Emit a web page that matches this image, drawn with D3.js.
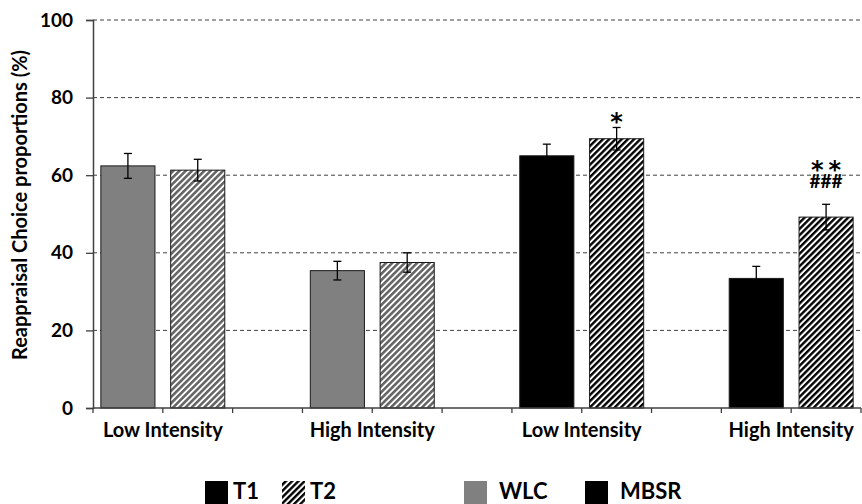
<!DOCTYPE html>
<html>
<head>
<meta charset="utf-8">
<script src="https://cdn.jsdelivr.net/npm/d3@7"></script>
<style>
  html, body { margin: 0; padding: 0; background: #fff; }
  svg { display: block; }
  text { font-family: Lato, "Open Sans", sans-serif; font-weight: bold; fill: #000; }
</style>
</head>
<body>
<svg id="chart" width="862" height="504"></svg>
<script>
// ---- data ----
const groups = ["WLC", "WLC", "MBSR", "MBSR"];
const intensities = ["Low Intensity", "High Intensity", "Low Intensity", "High Intensity"];
const t1Values = [62.4, 35.4, 65.0, 33.4];
const t2Values = [61.3, 37.5, 69.4, 49.2];
const t1Errors = [3.2, 2.4, 3.0, 3.1];
const t2Errors = [2.8, 2.5, 2.9, 3.3];
const t2Stars = ["", "", "*", "**"];
const t2Hashes = ["", "", "", "###"];
const yTicks = [0, 20, 40, 60, 80, 100];
const yTitle = "Reappraisal Choice proportions (%)";
const legendTime = ["T1", "T2"];
const legendGroup = ["WLC", "MBSR"];

const groupColor = { WLC: "#808080", MBSR: "#000000" };

const svg = d3.select("#chart");
const mLeft = 93, mRight = 861, mTop = 20, mBottom = 408;

// 11 slots: two bars per cluster, one empty slot between clusters
const slots = d3.range(11);
const x = d3.scaleBand().domain(slots).range([mLeft, mRight]).padding(0);
const y = d3.scaleLinear().domain([0, 100]).range([mBottom, mTop]);
const bw = x.bandwidth();
const barW = bw * 0.775;

// hatch patterns
const defs = svg.append("defs");
function hatch(id, color, w) {
  const p = defs.append("pattern")
    .attr("id", id)
    .attr("patternUnits", "userSpaceOnUse")
    .attr("width", 4.4).attr("height", 4.4)
    .attr("patternTransform", "rotate(45)");
  p.append("rect").attr("width", 4.4).attr("height", 4.4).attr("fill", "#fff");
  p.append("rect").attr("width", w).attr("height", 4.4).attr("fill", color);
}
hatch("hatch-WLC", "#666666", 2.6);
hatch("hatch-MBSR", groupColor.MBSR, 2.4);

// gridlines
svg.append("g").selectAll("line")
  .data(yTicks.filter(d => d > 0))
  .join("line")
  .attr("x1", mLeft).attr("x2", 862)
  .attr("y1", d => y(d)).attr("y2", d => y(d))
  .attr("stroke", "#404040").attr("stroke-width", 1)
  .attr("stroke-dasharray", "4,3");

// y axis
const yAxis = svg.append("g")
  .attr("transform", `translate(${mLeft},0)`)
  .call(d3.axisLeft(y).tickValues(yTicks).tickSize(7).tickPadding(13));
yAxis.select(".domain").attr("stroke", "#404040").attr("stroke-width", 1.5);
yAxis.selectAll(".tick line").attr("stroke", "#404040").attr("stroke-width", 1.3);
yAxis.selectAll(".tick text")
  .style("font-family", "Lato, 'Open Sans', sans-serif")
  .style("font-weight", "bold")
  .style("font-size", "19px").attr("fill", "#000");

// y title
svg.append("text")
  .attr("transform", `translate(27,205) rotate(-90)`)
  .attr("text-anchor", "middle")
  .style("font-size", "20px")
  .text(yTitle);

// bars
const bars = [];
groups.forEach((g, i) => {
  bars.push({ slot: 3 * i, value: t1Values[i], err: t1Errors[i], fill: groupColor[g], star: "", hash: "" });
  bars.push({ slot: 3 * i + 1, value: t2Values[i], err: t2Errors[i], fill: `url(#hatch-${g})`, star: t2Stars[i], hash: t2Hashes[i] });
});

svg.append("g").selectAll("rect")
  .data(bars)
  .join("rect")
  .attr("x", d => x(d.slot) + (bw - barW) / 2)
  .attr("width", barW)
  .attr("y", d => y(d.value))
  .attr("height", d => y(0) - y(d.value))
  .attr("fill", d => d.fill)
  .attr("stroke", "#1a1a1a").attr("stroke-width", 1);

// error bars
const eb = svg.append("g").attr("stroke", "#000").attr("stroke-width", 1.3);
bars.forEach(d => {
  const cx = x(d.slot) + bw / 2;
  eb.append("line").attr("x1", cx).attr("x2", cx)
    .attr("y1", y(d.value - d.err)).attr("y2", y(d.value + d.err));
  [d.value - d.err, d.value + d.err].forEach(v => {
    eb.append("line").attr("x1", cx - 4).attr("x2", cx + 4)
      .attr("y1", y(v)).attr("y2", y(v));
  });
});

// annotations (one text element per bar; lines as tspans)
bars.forEach(d => {
  if (!d.star && !d.hash) return;
  const cx = x(d.slot) + bw / 2;
  const errTop = y(d.value + d.err);
  const t = svg.append("text").attr("text-anchor", "middle");
  const starOffset = d.hash ? 29 : 0;
  if (d.star) {
    const ls = d.star.length > 1 ? 5 : 0;
    t.append("tspan")
      .attr("x", cx + ls / 2).attr("y", errTop + 3 - starOffset)
      .style("font-family", "'DejaVu Sans', sans-serif")
      .style("font-size", "24px")
      .style("letter-spacing", ls + "px")
      .text(d.star);
  }
  if (d.hash) {
    t.append("tspan")
      .attr("x", cx).attr("y", errTop - 16)
      .style("font-size", "19px")
      .style("letter-spacing", "0px")
      .text(d.hash);
  }
});

// x axis
const xAxisG = svg.append("g");
xAxisG.append("line")
  .attr("x1", mLeft).attr("x2", mRight)
  .attr("y1", mBottom).attr("y2", mBottom)
  .attr("stroke", "#404040").attr("stroke-width", 1.5);
xAxisG.selectAll(".xt")
  .data(slots.concat([11]))
  .join("line")
  .attr("x1", d => d < 11 ? x(d) : mRight)
  .attr("x2", d => d < 11 ? x(d) : mRight)
  .attr("y1", mBottom).attr("y2", mBottom + 5)
  .attr("stroke", "#404040").attr("stroke-width", 1.3);

svg.append("g").selectAll("text")
  .data(intensities)
  .join("text")
  .attr("x", (d, i) => x(3 * i + 1))
  .attr("y", mBottom + 29)
  .attr("text-anchor", "middle")
  .style("font-size", "20px")
  .text(d => d);

// legend
const lg = svg.append("g");
const legendItems = [
  { label: legendTime[0], fill: "#000", x: 205 },
  { label: legendTime[1], fill: "url(#hatch-MBSR)", x: 282 },
  { label: legendGroup[0], fill: groupColor.WLC, x: 464 },
  { label: legendGroup[1], fill: groupColor.MBSR, x: 585 }
];
legendItems.forEach(it => {
  lg.append("rect").attr("x", it.x).attr("y", 481).attr("width", 23).attr("height", 23)
    .attr("fill", it.fill);
  lg.append("text").attr("x", it.x + (it.label.length > 2 ? 35 : 28)).attr("y", 499)
    .style("font-size", "22px").text(it.label);
});
</script>
</body>
</html>
